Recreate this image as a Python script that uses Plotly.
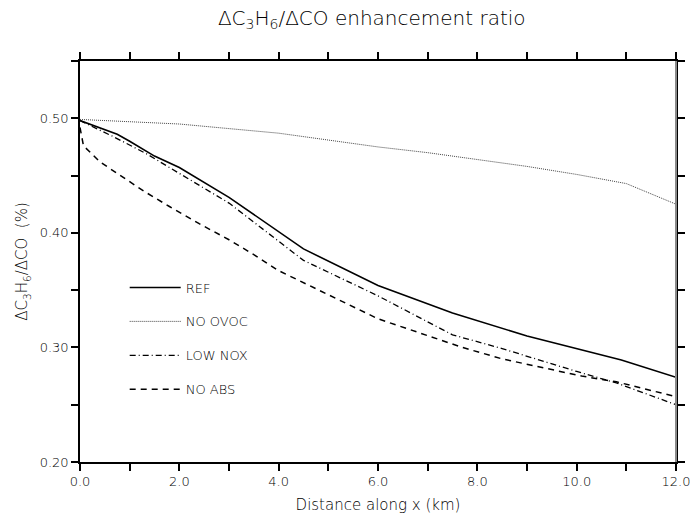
import plotly.graph_objects as go

# Distance along x (km) and enhancement ratio (%) for each model run
ref_x = [0, 0.75, 1.0, 1.5, 2.0, 2.5, 3.0, 4.5, 6.0, 7.5, 9.0, 10.9, 12.0]
ref_y = [0.498, 0.486, 0.480, 0.467, 0.457, 0.444, 0.431, 0.386, 0.354, 0.330, 0.310, 0.289, 0.274]

noovoc_x = [0, 1, 2, 3, 4, 5, 6, 7, 8, 9, 10, 11, 12]
noovoc_y = [0.499, 0.497, 0.495, 0.491, 0.487, 0.481, 0.475, 0.470, 0.464, 0.458, 0.451, 0.443, 0.425]

lownox_x = [0, 0.67, 1.34, 2.0, 3.0, 4.5, 6.0, 7.5, 8.5, 10.0, 10.8, 12.0]
lownox_y = [0.498, 0.484, 0.469, 0.452, 0.426, 0.376, 0.345, 0.311, 0.299, 0.279, 0.269, 0.250]

noabs_x = [0, 0.07, 0.4, 0.75, 1.3, 1.8, 2.4, 3.0, 3.5, 4.0, 5.2, 6.0, 7.7, 8.5, 10.1, 10.8, 12.0]
noabs_y = [0.492, 0.476, 0.462, 0.452, 0.436, 0.423, 0.408, 0.394, 0.381, 0.367, 0.342, 0.325,
           0.300, 0.290, 0.275, 0.270, 0.257]

series = [
    ("REF", ref_x, ref_y, dict(color="black", width=1.6, dash="solid")),
    ("NO OVOC", noovoc_x, noovoc_y, dict(color="#444444", width=1.0, dash="1px,1px")),
    ("LOW NOX", lownox_x, lownox_y, dict(color="black", width=1.3, dash="6px,3px,1px,3px")),
    ("NO ABS", noabs_x, noabs_y, dict(color="black", width=1.5, dash="6px,5px")),
]

FONT = "DejaVu Sans"
WEIGHT = 200

fig = go.Figure()
for i, (name, xs, ys, line) in enumerate(series):
    fig.add_trace(go.Scatter(x=xs, y=ys, mode="lines", name=name, line=line,
                             legendgroup=f"g{i}"))

axis_common = dict(
    showgrid=False, zeroline=False, showline=True, linecolor="black", linewidth=1.5,
    ticks="outside", ticklen=7, tickwidth=1.5, tickcolor="black", mirror="ticks",
    automargin=False,
    tickfont=dict(family=FONT, size=13, color="black", weight=WEIGHT),
)

fig.update_layout(
    width=691, height=514,
    margin=dict(l=80, r=15, t=61, b=52),
    paper_bgcolor="white", plot_bgcolor="white",
    font=dict(family=FONT, color="black", weight=WEIGHT),
    title=dict(text="ΔC<sub>3</sub>H<sub>6</sub>/ΔCO enhancement ratio",
               x=0.538, xanchor="center", y=0.965, yanchor="middle",
               font=dict(family=FONT, size=20, color="black", weight=WEIGHT)),
    xaxis=dict(range=[0, 12], tickvals=[0, 2, 4, 6, 8, 10, 12], tickformat=".1f",
               minor=dict(dtick=1, ticks="outside", ticklen=7, tickwidth=1.5, tickcolor="black"),
               title=dict(text="Distance along x (km)", standoff=12,
                          font=dict(family=FONT, size=15, color="black", weight=WEIGHT)),
               **axis_common),
    yaxis=dict(range=[0.2, 0.55], tickvals=[0.2, 0.3, 0.4, 0.5], tickformat=".2f",
               minor=dict(dtick=0.05, ticks="outside", ticklen=7, tickwidth=1.5, tickcolor="black"),
               title=dict(text="ΔC<sub>3</sub>H<sub>6</sub>/ΔCO  (%)", standoff=8,
                          font=dict(family=FONT, size=15, color="black", weight=WEIGHT)),
               **axis_common),
    legend=dict(x=0.075, y=0.4725, xanchor="left", yanchor="top",
                bgcolor="rgba(0,0,0,0)", borderwidth=0, itemwidth=51,
                tracegroupgap=14, font=dict(family=FONT, size=13, color="black", weight=WEIGHT)),
    shapes=[dict(type="line", xref="paper", yref="paper", x0=1, x1=1, y0=0, y1=1,
                 line=dict(color="#8a8a8a", width=2), layer="above")],
)

fig.write_html("out.html")
